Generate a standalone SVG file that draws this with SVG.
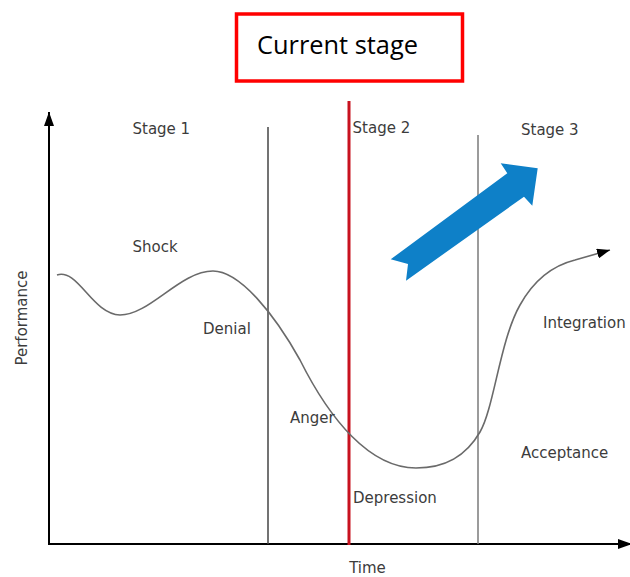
<svg xmlns="http://www.w3.org/2000/svg" width="630" height="577" viewBox="0 0 630 577">
  <style>
    .lbl { font-family: "DejaVu Sans", Verdana, sans-serif; font-size: 15px; fill: #3c3c3c; }
    .axis { stroke: #000; stroke-width: 2; fill: none; }
    .stage { stroke-width: 1.5; fill: none; }
    .curve { stroke: #6a6a6a; stroke-width: 1.6; fill: none; }
  </style>
  <defs>
    <marker id="ah" markerUnits="userSpaceOnUse" markerWidth="14" markerHeight="10" refX="14" refY="5" orient="auto">
      <path d="M0,0 L14,5 L0,10 z" fill="#000"/>
    </marker>
    <marker id="ah2" markerUnits="userSpaceOnUse" markerWidth="13" markerHeight="10" refX="13" refY="5" orient="auto">
      <path d="M0,0 L13,5 L0,10 z" fill="#000"/>
    </marker>
  </defs>

  <rect width="630" height="577" fill="#fff"/>

  <g id="current-stage-box">
    <rect x="236.5" y="14" width="226" height="67" fill="#fff" stroke="#ff0000" stroke-width="3.5"/>
    <text x="257" y="54" font-family="'Open Sans', 'Liberation Sans', sans-serif" font-size="25" fill="#000" textLength="161" lengthAdjust="spacingAndGlyphs">Current stage</text>
  </g>

  <g id="axes">
    <path class="axis" d="M49,545 L49,112" marker-end="url(#ah)"/>
    <path class="axis" d="M48,544 L632,544" marker-end="url(#ah)"/>
  </g>

  <g id="stage-lines">
    <line class="stage" x1="268" y1="127" x2="268" y2="544" stroke="#444"/>
    <line class="stage" x1="478" y1="135" x2="478" y2="544" stroke="#7a7a7a"/>
    <line x1="349" y1="101" x2="349" y2="545" stroke="#c8121f" stroke-width="3"/>
  </g>

  <g id="curve">
    <path class="curve" d="M57,275 C78,268 92,314 120,315 C150,315 180,271 213,271 C240,271 275,315 300,360 C330,420 370,468 416,468 C446,468 466,456 480,432 C494,408 500,340 520,305 C535,278 555,265 575,260 L610,250" marker-end="url(#ah2)"/>
  </g>

  <g id="blue-arrow">
    <polygon points="390.7,259.3 507.3,173.3 500.7,163.3 537.7,168.3 532.3,205.7 524,196.7 406,280.7 408,264" fill="#0e80c8"/>
  </g>

  <g id="labels">
    <text class="lbl" x="132.5" y="134">Stage 1</text>
    <text class="lbl" x="352.6" y="133">Stage 2</text>
    <text class="lbl" x="521" y="135">Stage 3</text>
    <text class="lbl" x="132.5" y="252">Shock</text>
    <text class="lbl" x="203" y="334">Denial</text>
    <text class="lbl" x="290" y="423">Anger</text>
    <text class="lbl" x="353" y="503">Depression</text>
    <text class="lbl" x="521" y="458">Acceptance</text>
    <text class="lbl" x="543" y="328">Integration</text>
    <text class="lbl" x="367.5" y="573" text-anchor="middle">Time</text>
    <text class="lbl" x="27" y="318" text-anchor="middle" font-size="15.5" transform="rotate(-90 27 318)">Performance</text>
  </g>
</svg>
